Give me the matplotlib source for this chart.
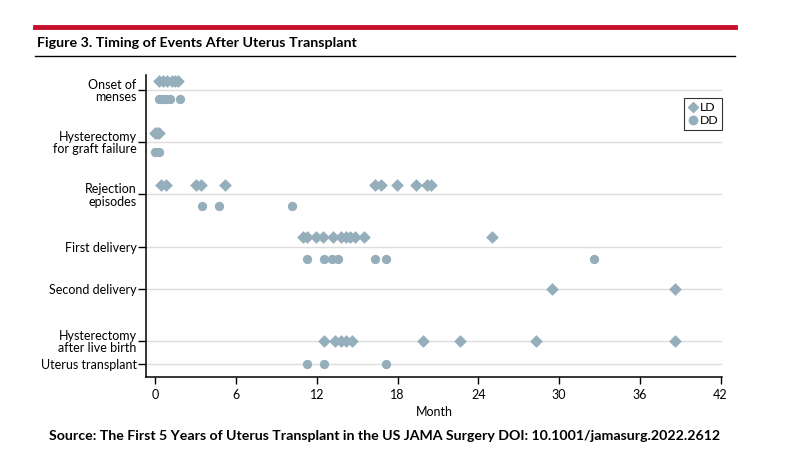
import matplotlib
matplotlib.use("Agg")
import matplotlib.pyplot as plt
from matplotlib.lines import Line2D

plt.rcParams['font.family'] = ['Lato', 'DejaVu Sans']

# ── data (months after transplant) ──────────────────────────────────────────
categories = ["Onset of\nmenses", "Hysterectomy\nfor graft failure", "Rejection\nepisodes",
              "First delivery", "Second delivery", "Hysterectomy\nafter live birth",
              "Uterus transplant"]
tick_pos = [0.17, 1.17, 2.18, 3.2, 4.0, 5.0, 5.45]

ld_rows = [0, 1, 2, 3, 4, 5]
ld_values = [
    [0.3, 0.6, 0.9, 1.2, 1.45, 1.65],
    [0.0, 0.15, 0.3],
    [0.45, 0.8, 3.0, 3.4, 5.15, 16.3, 16.8, 17.95, 19.35, 20.15, 20.45],
    [11.0, 11.25, 11.9, 12.45, 13.2, 13.8, 14.15, 14.45, 14.8, 15.5, 25.0],
    [29.45, 38.6],
    [12.5, 13.35, 13.8, 14.15, 14.6, 19.85, 22.6, 28.3, 38.6],
]
dd_rows = [0.34, 1.37, 2.4, 3.42, 5.45]
dd_values = [
    [0.3, 0.55, 0.8, 1.1, 1.8],
    [0.0, 0.3],
    [3.5, 4.7, 10.15],
    [11.3, 12.5, 13.15, 13.55, 16.35, 17.15, 32.6],
    [11.3, 12.55, 17.15],
]

COL = "#95aebb"

fig = plt.figure(figsize=(7.95, 4.70), dpi=100)
ax = fig.add_axes([0.1836, 0.198, 0.7245, 0.642])

for y, vals in zip(ld_rows, ld_values):
    ax.scatter(vals, [y] * len(vals), marker="D", s=42, color=COL, linewidths=0, zorder=3)
for y, vals in zip(dd_rows, dd_values):
    ax.scatter(vals, [y] * len(vals), marker="o", s=45, color=COL, linewidths=0, zorder=3)

ax.set_xlim(-0.7, 42.1)
ax.set_ylim(5.70, -0.11)
ax.set_xticks(range(0, 43, 6))
ax.set_yticks(tick_pos)
ax.set_yticklabels(categories, fontsize=9, linespacing=1.05)
ax.tick_params(axis="x", labelsize=9, length=5, width=1, direction="out")
ax.tick_params(axis="y", length=6, width=1, direction="out", pad=0.8)
ax.grid(axis="y", color="#dddddd", lw=1)
ax.set_axisbelow(True)
for s in ["top", "right"]:
    ax.spines[s].set_visible(False)
for s in ["left", "bottom"]:
    ax.spines[s].set_linewidth(1.1)
ax.set_xlabel("Month", fontsize=9, labelpad=4)

handles = [Line2D([], [], marker="D", ls="", color=COL, markersize=5, label="LD"),
           Line2D([], [], marker="o", ls="", color=COL, markersize=6, label="DD")]
leg = ax.legend(handles=handles, loc="upper right", bbox_to_anchor=(1.0, 0.923),
                fontsize=8.8, frameon=True, fancybox=False, handletextpad=0.1,
                handlelength=0.9, borderpad=0.3, labelspacing=0.15, borderaxespad=0.0,
                handleheight=0.6)
leg.get_frame().set_edgecolor("black")
leg.get_frame().set_linewidth(0.8)

# header: red bar, title, rule
fig.add_artist(Line2D([0.044, 0.925], [0.942, 0.942], color="#c8102e", lw=3.5))
fig.text(0.046, 0.908, "Figure 3. Timing of Events After Uterus Transplant",
         fontsize=10.3, fontweight="bold", va="center", ha="left")
fig.add_artist(Line2D([0.044, 0.925], [0.881, 0.881], color="black", lw=1))

fig.text(0.484, 0.073,
         "Source: The First 5 Years of Uterus Transplant in the US JAMA Surgery DOI: 10.1001/jamasurg.2022.2612",
         fontsize=10.2, fontweight="bold", ha="center", va="center")

fig.savefig("out.png", dpi=100)
